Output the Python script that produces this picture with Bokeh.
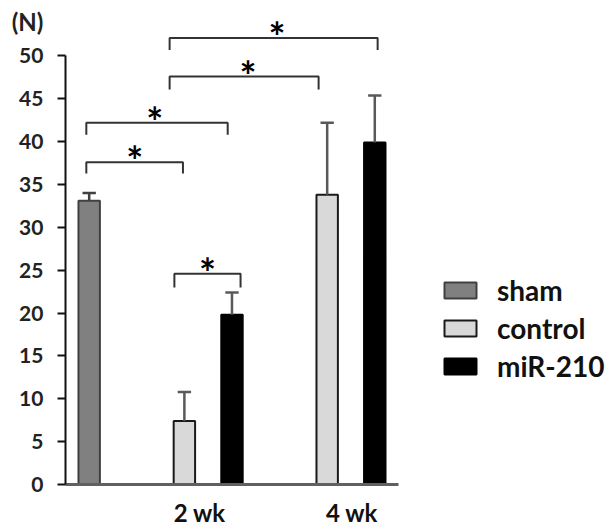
from bokeh.plotting import figure
from bokeh.models import ColumnDataSource, FixedTicker, LinearAxis
from bokeh.core.properties import value
from bokeh.embed import file_html
from bokeh.resources import INLINE

# ---- data ----
groups = ["sham", "control", "miR-210", "control", "miR-210"]
bar_pos = [0, 2, 3, 5, 6]
means = [33.1, 7.4, 19.8, 33.8, 39.9]
errors = [0.9, 3.4, 2.6, 8.4, 5.5]
fills = ["#808080", "#d9d9d9", "#000000", "#d9d9d9", "#000000"]
outlines = ["#404040", "#1a1a1a", "#000000", "#1a1a1a", "#000000"]
err_colors = ["#404040", "#595959", "#595959", "#595959", "#595959"]

xtick_pos = [2.32, 5.52]
xtick_labels = ["2 wk", "4 wk"]
ytick_vals = [0, 5, 10, 15, 20, 25, 30, 35, 40, 45, 50]
unit_pos = 54.0
unit_label = "(N)"

# significance brackets: left x, right x, top y, drop y
br_left = [-0.06, -0.06, 1.69, 1.69, 1.79]
br_right = [1.97, 2.91, 4.82, 6.06, 3.18]
br_top = [37.6, 42.2, 47.6, 52.1, 24.6]
br_drop = [36.3, 40.8, 46.1, 50.7, 23.0]
star_dx = [0.0, -0.05, 0.08, 0.07, 0.0]

FONT = "Lato"
AXIS_X = -0.5

p = figure(width=614, height=530, output_backend="svg", toolbar_location=None,
           x_range=(-1.863, 11.036), y_range=(-5.368, 56.476),
           min_border_left=0, min_border_right=0, min_border_top=0, min_border_bottom=0)
p.grid.visible = False
p.outline_line_color = None
p.background_fill_color = "white"
p.border_fill_color = "white"

src = ColumnDataSource(dict(x=bar_pos, top=means, fill=fills, line=outlines, group=groups))
p.vbar(x="x", top="top", bottom=0, width=0.45, source=src, fill_color="fill",
       line_color="line", line_width=2, legend_field="group")

# error bars
ex = bar_pos
elo = means
ehi = [m + e for m, e in zip(means, errors)]
p.segment(x0=ex, y0=elo, x1=ex, y1=ehi, line_color=err_colors, line_width=2.5)
cap = 0.14
p.segment(x0=[x - cap for x in ex], y0=ehi, x1=[x + cap for x in ex], y1=ehi,
          line_color=err_colors, line_width=2.5)

# brackets
xs = [[l, l, r, r] for l, r in zip(br_left, br_right)]
ys = [[d, t, t, d] for t, d in zip(br_top, br_drop)]
p.multi_line(xs=xs, ys=ys, line_color="#333333", line_width=2)
sx = [(l + r) / 2 + dx for l, r, dx in zip(br_left, br_right, star_dx)]
sy = [t + 0.1 for t in br_top]
p.text(x=sx, y=sy, text=["*"] * len(sx), text_align="center", text_baseline="middle",
       text_font=value(FONT), text_font_style="bold", text_font_size="40px", text_color="#000000")

# x axis (baseline at y = 0)
xa = p.xaxis[0]
xa.fixed_location = 0
xa.ticker = FixedTicker(ticks=xtick_pos)
xa.major_label_overrides = {xtick_pos[i]: xtick_labels[i] for i in range(2)}
xa.bounds = (-0.5, 6.5)
xa.axis_line_color = "#606060"
xa.axis_line_width = 3
xa.major_tick_line_color = None
xa.major_tick_out = 0
xa.major_tick_in = 0
xa.minor_tick_line_color = None
xa.minor_tick_out = 0
xa.major_label_text_font = FONT
xa.major_label_text_font_style = "bold"
xa.major_label_text_font_size = "24px"
xa.major_label_text_color = "#111111"
xa.major_label_standoff = 14

# y axis: line + ticks
ya = p.yaxis[0]
ya.fixed_location = AXIS_X
ya.ticker = FixedTicker(ticks=ytick_vals)
ya.bounds = (0, 50)
ya.axis_line_color = "#111111"
ya.axis_line_width = 2
ya.major_tick_line_color = "#111111"
ya.major_tick_line_width = 2
ya.major_tick_out = 8
ya.major_tick_in = 0
ya.minor_tick_line_color = None
ya.major_label_overrides = {v: "" for v in ytick_vals}
ya.major_label_standoff = 0
ya.major_label_text_font_size = "1px"


def label_axis(ticks, overrides, size):
    ax = LinearAxis(ticker=FixedTicker(ticks=ticks), fixed_location=AXIS_X,
                    major_label_overrides=overrides)
    ax.axis_line_color = None
    ax.major_tick_line_color = None
    ax.minor_tick_line_color = None
    ax.major_tick_out = 0
    ax.major_tick_in = 0
    ax.minor_tick_out = 0
    ax.major_label_standoff = 22
    ax.major_label_text_font = FONT
    ax.major_label_text_font_style = "bold"
    ax.major_label_text_font_size = size
    ax.major_label_text_color = "#222222"
    return ax


# y tick labels, and the unit "(N)" above them
p.add_layout(label_axis(ytick_vals, {}, "21px"), "left")
p.add_layout(label_axis([unit_pos], {unit_pos: unit_label}, "24px"), "left")

leg = p.legend[0]
leg.location = (440, 147)
leg.glyph_width = 40
leg.glyph_height = 20
leg.label_standoff = 17
leg.label_text_font = FONT
leg.label_text_font_style = "bold"
leg.label_text_font_size = "28px"
leg.label_text_color = "#111111"
leg.spacing = 4
leg.padding = 0
leg.margin = 0
leg.border_line_color = None
leg.background_fill_alpha = 0

open("out.html", "w").write(file_html(p, INLINE))
